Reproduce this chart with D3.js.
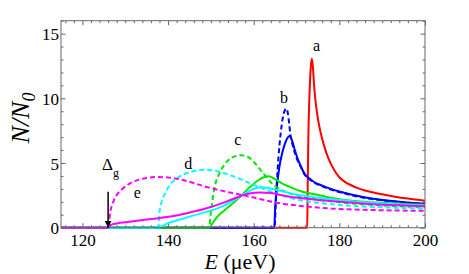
<!DOCTYPE html>
<meta charset="utf-8">
<script src="https://d3js.org/d3.v7.min.js"></script>
<style>
  body { margin: 0; background: #fff; }
</style>
<div id="chart"></div>
<script>

// curves: [E in µeV, N/N0]
const aSolid = [[115,0],[172.5,0],[172.6,3],[172.75,6.8],[173,10],[173.3,12.3],[173.55,13.05],[173.8,12.5],[174.1,11],[174.5,9.6],[175,8.4],[175.6,7.4],[176.3,6.5],[177,5.75],[178,4.95],[179,4.35],[180,3.9],[182,3.4],[184,3.1],[186,2.88],[188,2.72],[190,2.58],[193,2.4],[196,2.25],[200,2.08]];
const bDashed = [[115,0],[164.9,0],[165.1,1.5],[165.4,3.5],[165.8,5.5],[166.3,7.3],[166.8,8.5],[167.3,9.1],[167.6,9.2],[168,8.8],[168.3,8.0],[168.6,7.1],[169,6.5],[170,5.4],[171,4.7],[172,4.05],[173,3.75],[174,3.5],[176,3.2],[178,2.95],[180,2.75],[183,2.5],[187,2.25],[190,2.12],[194,1.98],[200,1.83]];
const bSolid = [[115,0],[164.8,0],[165,1.5],[165.4,3.1],[166,4.7],[166.6,5.7],[167.2,6.4],[167.8,6.9],[168.4,7.08],[169,6.7],[169.6,6.0],[170.3,5.3],[171,4.75],[172,4.1],[173,3.8],[174,3.55],[176,3.25],[178,3.0],[180,2.8],[183,2.55],[187,2.28],[190,2.15],[194,2.0],[200,1.85]];
const cDashed = [[115,0],[149.6,0],[150,1.2],[150.5,2.4],[151,3.3],[152,4.2],[153,4.8],[154,5.2],[155.5,5.5],[157,5.6],[158.5,5.5],[160,5.1],[161.5,4.5],[163,3.9],[164.5,3.35],[166,3.0],[168,2.7],[170,2.5],[173,2.3],[176,2.12],[180,1.97],[185,1.82],[190,1.72],[195,1.64],[200,1.58]];
const cSolid = [[115,0],[149.6,0],[150.5,0.4],[151.5,0.85],[153,1.3],[155,1.85],[157,2.45],[159,3.1],[161,3.65],[162.5,3.92],[163.5,3.98],[165,3.75],[166.5,3.45],[168.5,3.15],[171,2.82],[174,2.6],[177,2.38],[180,2.2],[185,2.03],[190,1.92],[195,1.84],[200,1.78]];
const dDashed = [[115,0],[137.7,0],[138,1.2],[138.5,2.0],[139.3,2.65],[140.5,3.35],[142,3.8],[143.5,4.1],[145.5,4.33],[148,4.47],[150,4.45],[152,4.33],[154,4.12],[156,3.88],[158,3.6],[160,3.32],[162,3.05],[164,2.78],[166,2.55],[168,2.35],[171,2.12],[175,1.92],[180,1.76],[185,1.65],[190,1.58],[195,1.52],[200,1.48]];
const dSolid = [[115,0],[137.7,0],[140,0.35],[143,0.65],[146,0.95],[149,1.22],[152,1.55],[155,2.05],[157,2.45],[159,2.82],[160.5,3.05],[161.8,3.12],[163.5,3.05],[165.5,2.9],[168,2.7],[171,2.5],[175,2.32],[180,2.15],[185,1.98],[190,1.87],[195,1.78],[200,1.72]];
const eDashed = [[115,0],[126,0],[126.5,1.2],[127.2,2.0],[128.2,2.6],[129.5,3.05],[131,3.4],[133,3.7],[135,3.85],[137.5,3.92],[140,3.88],[143,3.72],[146,3.45],[149,3.15],[152,2.9],[155,2.68],[158,2.48],[161,2.25],[164,2.02],[167,1.84],[170,1.72],[174,1.58],[178,1.48],[182,1.42],[186,1.38],[190,1.35],[195,1.32],[200,1.3]];
const eSolid = [[115,0],[126,0],[126.5,0.2],[128,0.33],[131,0.46],[135,0.63],[139.7,0.82],[143,1.02],[146,1.25],[149,1.5],[152,1.82],[155,2.2],[157,2.45],[159,2.65],[161.5,2.72],[164,2.68],[166,2.55],[168.5,2.4],[172,2.25],[176,2.12],[180,2.0],[185,1.88],[190,1.78],[195,1.71],[200,1.66]];

const curveLabels = [
  {text: "a", x: 174.7, y: 13.65},
  {text: "b", x: 167.1, y: 9.64},
  {text: "c", x: 156.3, y: 6.39},
  {text: "d", x: 144.7, y: 4.54},
  {text: "e", x: 132.8, y: 2.3}
];
const xTicks = [120, 140, 160, 180, 200];
const yTicks = [0, 5, 10, 15];
const gapEdge = 126;   // Δg position

const W = 469, H = 274;
const serif = "'Liberation Serif', 'Times New Roman', Times, serif";
const x = d3.scaleLinear().domain([115, 200]).range([61, 425]);
const y = d3.scaleLinear().domain([0, 16]).range([227.7, 20.7]);

const svg = d3.select("#chart").append("svg")
    .attr("width", W)
    .attr("height", H)
    .style("font-family", serif);

// ticks on all four sides, pointing inwards
const minorX = d3.range(116, 201, 2).filter(v => v % 20 !== 0);
const minorY = d3.range(0, 16.5, 1).filter(v => v % 5 !== 0);
const frameColor = "#666";

function tickAxis(axis, transform) {
  const g = svg.append("g").attr("transform", transform).call(axis);
  g.attr("font-family", serif);
  g.select(".domain").remove();
  g.selectAll("line").attr("stroke", frameColor);
  return g;
}
tickAxis(d3.axisBottom(x).tickValues(minorX).tickSize(-2.5).tickFormat(""), `translate(0,${y(0)})`);
tickAxis(d3.axisTop(x).tickValues(minorX).tickSize(-2.5).tickFormat(""), `translate(0,${y(16)})`);
tickAxis(d3.axisTop(x).tickValues(xTicks).tickSize(-4.5).tickFormat(""), `translate(0,${y(16)})`);
tickAxis(d3.axisLeft(y).tickValues(minorY).tickSize(-2.5).tickFormat(""), `translate(${x(115)},0)`);
tickAxis(d3.axisRight(y).tickValues(minorY).tickSize(-2.5).tickFormat(""), `translate(${x(200)},0)`);
tickAxis(d3.axisRight(y).tickValues(yTicks).tickSize(-4.5).tickFormat(""), `translate(${x(200)},0)`);

const xAxis = tickAxis(d3.axisBottom(x).tickValues(xTicks).tickSize(-4.5), `translate(0,${y(0)})`);
xAxis.selectAll("text")
    .attr("fill", "#000")
    .style("font-family", serif)
    .style("font-size", "17px")
    .attr("y", 6)
    .attr("dy", "0.71em");
const yAxis = tickAxis(d3.axisLeft(y).tickValues(yTicks).tickSize(-4.5), `translate(${x(115)},0)`);
yAxis.selectAll("text")
    .attr("fill", "#000")
    .style("font-family", serif)
    .style("font-size", "17px")
    .attr("x", -2)
    .attr("dy", "0.36em");

// curves, drawn in the order a..e so the later ones sit on top
const line = d3.line().x(d => x(d[0])).y(d => y(d[1])).curve(d3.curveMonotoneX);
const series = [
  {data: aSolid, color: "#ff0000", dash: null},
  {data: bDashed, color: "#0000ff", dash: "5,3"},
  {data: bSolid, color: "#0000ff", dash: null},
  {data: cDashed, color: "#00e600", dash: "5,3"},
  {data: cSolid, color: "#00e600", dash: null},
  {data: dDashed, color: "#00ffff", dash: "5,3"},
  {data: dSolid, color: "#00ffff", dash: null},
  {data: eDashed, color: "#ff00ff", dash: "5,3"},
  {data: eSolid, color: "#ff00ff", dash: null}
];
const plot = svg.append("g");
plot.append("clipPath").attr("id", "clip")
  .append("rect")
    .attr("x", x(115)).attr("y", y(16))
    .attr("width", x(200) - x(115)).attr("height", y(0) - y(16) + 2);
plot.selectAll("path.curve")
  .data(series)
  .join("path")
    .attr("class", "curve")
    .attr("clip-path", "url(#clip)")
    .attr("d", d => line(d.data))
    .attr("fill", "none")
    .attr("stroke", d => d.color)
    .attr("stroke-width", 2)
    .attr("stroke-dasharray", d => d.dash);

// frame
svg.append("rect")
    .attr("x", x(115)).attr("y", y(16))
    .attr("width", x(200) - x(115)).attr("height", y(0) - y(16))
    .attr("fill", "none")
    .attr("stroke", frameColor)
    .attr("stroke-width", 1);

// curve letters
svg.selectAll("text.lbl")
  .data(curveLabels)
  .join("text")
    .attr("class", "lbl")
    .attr("x", d => x(d.x))
    .attr("y", d => y(d.y))
    .attr("text-anchor", "middle")
    .style("font-size", "16px")
    .text(d => d.text);

// Δg arrow
svg.append("defs").append("marker")
    .attr("id", "head")
    .attr("viewBox", "0 0 10 10")
    .attr("refX", 10).attr("refY", 5)
    .attr("markerWidth", 7).attr("markerHeight", 10)
    .attr("markerUnits", "userSpaceOnUse")
    .attr("orient", "auto")
  .append("path")
    .attr("d", "M0,0 L10,5 L0,10 Z")
    .attr("fill", "#000");
svg.append("line")
    .attr("x1", x(gapEdge)).attr("x2", x(gapEdge))
    .attr("y1", y(2.78)).attr("y2", y(0))
    .attr("stroke", "#000")
    .attr("stroke-width", 1.5)
    .attr("marker-end", "url(#head)");
const gLabel = svg.append("text")
    .attr("x", x(gapEdge) - 6)
    .attr("y", y(4.45))
    .style("font-size", "17px");
gLabel.append("tspan").text("Δ");
gLabel.append("tspan").attr("dy", 7).style("font-size", "12px").text("g");

// axis titles
const xt = svg.append("text")
    .attr("x", 240)
    .attr("y", 269)
    .attr("text-anchor", "middle")
    .style("font-size", "22px");
xt.append("tspan").style("font-style", "italic").text("E");
xt.append("tspan").text(" (μeV)");

const yt = svg.append("text")
    .attr("transform", "translate(29,118) rotate(-90)")
    .attr("text-anchor", "middle")
    .style("font-size", "26px")
    .style("font-style", "italic");
yt.append("tspan").text("N/N");
yt.append("tspan").attr("dy", 6).style("font-size", "18px").text("0");

</script>
